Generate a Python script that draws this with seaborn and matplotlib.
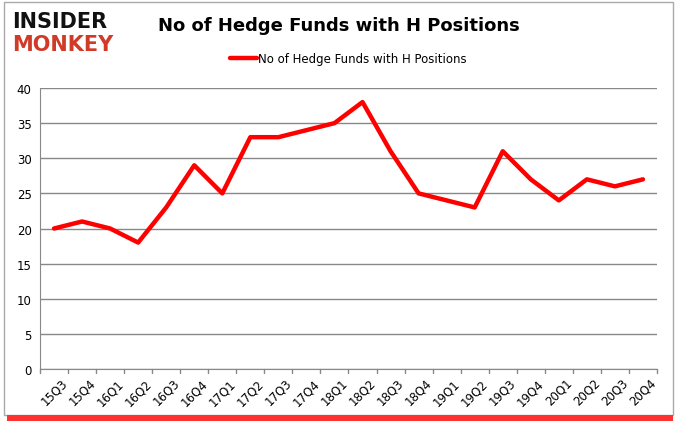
import seaborn as sns
import matplotlib.pyplot as plt
import pandas as pd
from matplotlib.patches import Rectangle

quarters = ['15Q3', '15Q4', '16Q1', '16Q2', '16Q3', '16Q4', '17Q1', '17Q2', '17Q3', '17Q4', '18Q1',
            '18Q2', '18Q3', '18Q4', '19Q1', '19Q2', '19Q3', '19Q4', '20Q1', '20Q2', '20Q3', '20Q4']
funds = [20, 21, 20, 18, 23, 29, 25, 33, 33, 34, 35, 38, 31, 25, 24, 23, 31, 27, 24, 27, 26, 27]
series_name = 'No of Hedge Funds with H Positions'

df = pd.DataFrame({'quarter': quarters, 'funds': funds})
df['pos'] = range(len(df))

sns.set_style('white')
plt.rcParams['font.family'] = ['DejaVu Sans']
plt.rcParams['text.color'] = 'black'
plt.rcParams['xtick.color'] = 'black'
plt.rcParams['ytick.color'] = 'black'

fig = plt.figure(figsize=(6.78, 4.31), dpi=100)
ax = fig.add_axes([0.059, 0.1415, 0.91, 0.652])

sns.lineplot(data=df, x='pos', y='funds', color='#ff0000', linewidth=3.2, ax=ax, label=series_name)

ax.set_xlim(-0.5, len(quarters) - 0.5)
ax.set_ylim(0, 40)
ax.set_yticks(range(0, 41, 5))
ax.set_xticks(range(len(quarters)))
ax.set_xticklabels(quarters, rotation=45, fontsize=8.5)
ax.tick_params(axis='y', labelsize=8.5, length=0, pad=6)
ax.tick_params(axis='x', length=0, pad=5)
# little tick marks between categories
for i in range(len(quarters) + 1):
    ax.plot([i - 0.5, i - 0.5], [0, -0.6], color='#888888', lw=1, clip_on=False)
ax.set_xlabel('')
ax.set_ylabel('')
ax.grid(axis='y', color='#888888', linewidth=1)
for s in ['top', 'right']:
    ax.spines[s].set_visible(False)
ax.spines['left'].set_color('#888888')
ax.spines['bottom'].set_color('#888888')

ax.legend(loc='center', bbox_to_anchor=(0.5, 1.105), frameon=False, fontsize=8.5,
          handlelength=2.3, handletextpad=0.1)

fig.text(0.5, 0.94, series_name, ha='center', va='center', fontsize=13, fontweight='bold')
fig.text(0.018, 0.95, 'INSIDER', ha='left', va='center', fontsize=15, fontweight='black', color='#111111')
fig.text(0.018, 0.895, 'MONKEY', ha='left', va='center', fontsize=15, fontweight='black', color='#d13a27')

# frame with red shadow
fig.patches.append(Rectangle((0.006, 0.035), 0.986, 0.958, transform=fig.transFigure,
                             fill=False, edgecolor='#aaaaaa', lw=1))
fig.patches.append(Rectangle((0.01, 0.022), 0.982, 0.012, transform=fig.transFigure,
                             color='#ff3030', lw=0))

fig.savefig('out.png', dpi=100)
